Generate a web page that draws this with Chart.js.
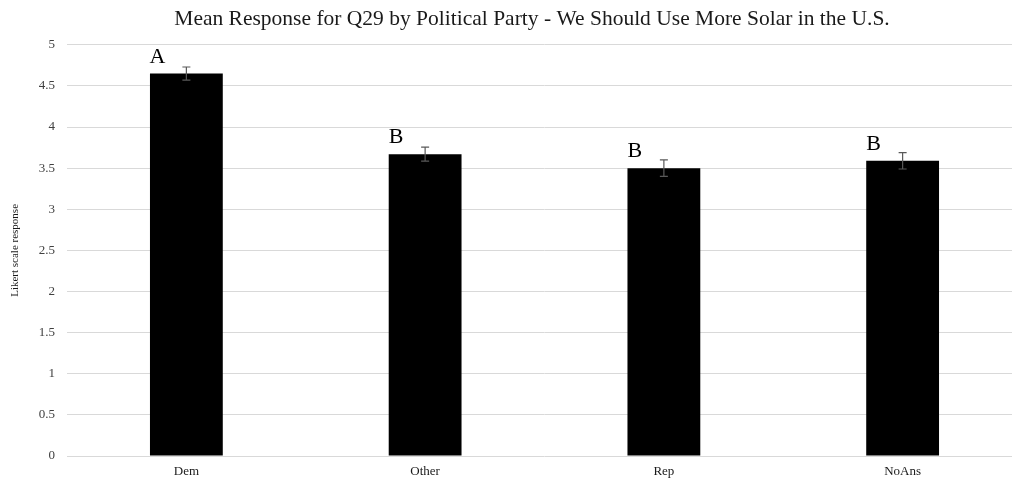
<!DOCTYPE html>
<html>
<head>
<meta charset="utf-8">
<script src="https://cdn.jsdelivr.net/npm/chart.js@4/dist/chart.umd.min.js"></script>
<style>
  html, body { margin: 0; padding: 0; overflow: hidden; background: #fff; }
  #wrap { width: 1064px; height: 481px; position: relative; }
</style>
</head>
<body>
<div id="wrap"><canvas id="c"></canvas></div>
<script>
const categories = ["Dem", "Other", "Rep", "NoAns"];
const meanValues = [4.65, 3.67, 3.50, 3.59];
const errorValues = [0.08, 0.085, 0.10, 0.10];
const groupLetters = ["A", "B", "B", "B"];
const yTicks = [0, 0.5, 1, 1.5, 2, 2.5, 3, 3.5, 4, 4.5, 5];

const serif = "'Liberation Serif', 'Times New Roman', serif";

const extras = {
  id: 'extras',
  afterDatasetsDraw(chart) {
    const ctx = chart.ctx;
    const meta = chart.getDatasetMeta(0);
    const y = chart.scales.y;
    ctx.save();
    meta.data.forEach((bar, i) => {
      const x = bar.x;
      const top = y.getPixelForValue(meanValues[i] + errorValues[i]);
      const bot = y.getPixelForValue(meanValues[i] - errorValues[i]);
      ctx.strokeStyle = '#595959';
      ctx.lineWidth = 1.2;
      ctx.beginPath();
      ctx.moveTo(x, top); ctx.lineTo(x, bot);
      ctx.moveTo(x - 4, top); ctx.lineTo(x + 4, top);
      ctx.moveTo(x - 4, bot); ctx.lineTo(x + 4, bot);
      ctx.stroke();
      ctx.fillStyle = '#000';
      ctx.font = '22px ' + serif;
      ctx.textAlign = 'center';
      ctx.textBaseline = 'alphabetic';
      ctx.fillText(groupLetters[i], x - 29, bar.y - 11);
    });
    ctx.restore();
  }
};

new Chart(document.getElementById('c'), {
  type: 'bar',
  data: {
    labels: categories,
    datasets: [{
      data: meanValues,
      backgroundColor: '#000000',
      borderWidth: 0,
      barPercentage: 1,
      categoryPercentage: 0.305,
      yAxisID: 'y'
    }]
  },
  options: {
    responsive: true,
    maintainAspectRatio: false,
    animation: false,
    layout: { padding: 0 },
    plugins: {
      legend: { display: false },
      tooltip: { enabled: false },
      title: {
        display: true,
        text: 'Mean Response for Q29 by Political Party - We Should Use More Solar in the U.S.',
        color: '#1a1a1a',
        font: { family: serif, size: 21.5, weight: 'normal', lineHeight: 1.2 },
        padding: { top: 6, bottom: 13 }
      }
    },
    scales: {
      x: {
        offset: true,
        grid: { display: false, drawTicks: false },
        border: { display: false },
        ticks: { color: '#1a1a1a', font: { family: serif, size: 13 }, padding: 8 },
        afterFit(s) { s.height = 25; }
      },
      y: {
        min: 0,
        max: 5,
        afterBuildTicks(s) { s.ticks = yTicks.map(v => ({ value: v })); },
        grid: { color: '#d9d9d9', lineWidth: 1, drawTicks: false },
        border: { display: false },
        ticks: { color: '#404040', font: { family: serif, size: 13 }, padding: 12,
                 callback: v => String(v) },
        title: {
          display: true,
          text: 'Likert scale response',
          color: '#1a1a1a',
          font: { family: serif, size: 11 },
          padding: { top: 9, bottom: 0 }
        },
        afterFit(s) { s.width = 67; }
      },
      yRight: {
        position: 'right',
        display: true,
        min: 0,
        max: 5,
        grid: { display: false, drawTicks: false },
        border: { display: false },
        ticks: { display: false },
        afterFit(s) { s.width = 42; }
      }
    }
  },
  plugins: [extras]
});
</script>
</body>
</html>
